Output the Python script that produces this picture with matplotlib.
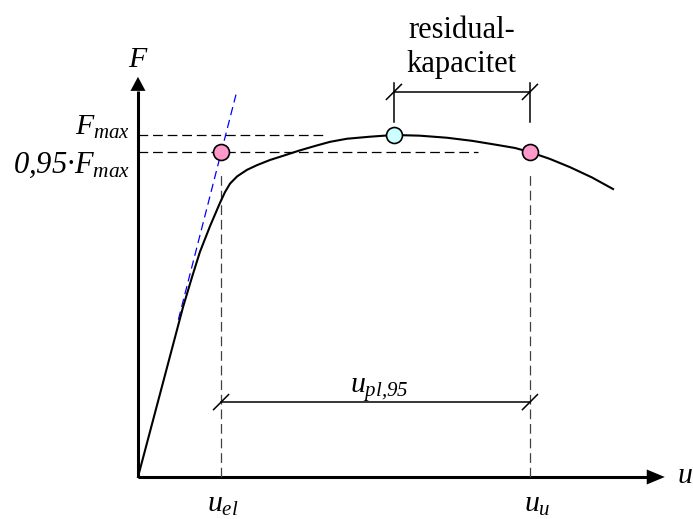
import matplotlib.pyplot as plt

plt.rcParams['font.family'] = ['Liberation Serif', 'DejaVu Serif']
# all symbols in the labels are italic, digits included
plt.rcParams['mathtext.fontset'] = 'custom'
plt.rcParams['mathtext.rm'] = 'Liberation Serif:italic'
plt.rcParams['mathtext.it'] = 'Liberation Serif:italic'
plt.rcParams['lines.scale_dashes'] = False

# force-displacement curve (u normalised to u_u, F normalised to F_max)
u_curve = [0.0, 0.115, 0.138, 0.158, 0.184, 0.209, 0.222, 0.235, 0.253, 0.278,
           0.304, 0.337, 0.370, 0.413, 0.452, 0.490, 0.533, 0.592, 0.653, 0.719,
           0.788, 0.852, 0.916, 0.962, 1.0, 1.051, 1.102, 1.158, 1.212]
F_curve = [0.0, 0.497, 0.585, 0.658, 0.734, 0.801, 0.833, 0.858, 0.879, 0.898,
           0.912, 0.927, 0.939, 0.955, 0.968, 0.980, 0.989, 0.995, 1.0, 0.998,
           0.992, 0.983, 0.971, 0.962, 0.95, 0.930, 0.906, 0.876, 0.842]

# initial stiffness line
u_tan = [0.103, 0.250]
F_tan = [0.460, 1.118]

F_max = 1.0
F_95 = 0.95
u_el = 0.212
u_peak = 0.653
u_u = 1.0

fig = plt.figure(figsize=(6.93, 5.19), dpi=100)
ax = fig.add_axes([0, 0, 1, 1])
ax.set_xlim(-0.352, 1.416)
ax.set_ylim(-0.1228, 1.3947)
ax.axis('off')

# pixel sizes expressed in data units
px_u = 1 / 392
px_F = 1 / 342

# axes with arrow heads
ax.plot([0, 1.298], [0, 0], color='black', lw=2.2, solid_capstyle='butt')
ax.plot([0, 0], [0, 1.129], color='black', lw=2.2, solid_capstyle='butt')
ax.fill([1.298, 1.344, 1.298], [7.5 * px_F, 0, -7.5 * px_F], color='black', lw=0)
ax.fill([-7.5 * px_u, 0, 7.5 * px_u], [1.129, 1.170, 1.129], color='black', lw=0)

# reference dashed lines
dash = (7, 3.5)
ax.plot([0, 0.472], [F_max, F_max], color='black', lw=0.9, dashes=dash)
ax.plot([0, 0.867], [F_95, F_95], color='black', lw=0.9, dashes=dash)
ax.plot([u_el, u_el], [0, 0.889], color='#404040', lw=0.9, dashes=dash)
ax.plot([u_u, u_u], [0, 0.883], color='#404040', lw=0.9, dashes=dash)

ax.plot(u_tan, F_tan, color='blue', lw=0.9, dashes=(6, 3.5))
ax.plot(u_curve, F_curve, color='black', lw=1.5, solid_joinstyle='round')

# characteristic points
ax.plot([u_el, u_u], [F_95, F_95], 'o', ms=11.5, mfc='#ff99cc', mec='black', mew=1.2)
ax.plot([u_peak], [F_max], 'o', ms=11.5, mfc='#ccffff', mec='black', mew=1.2)


def dimension(u0, u1, F):
    ax.plot([u0, u1], [F, F], color='black', lw=1.1)
    for u in (u0, u1):
        ax.plot([u - 7.5 * px_u, u + 7.5 * px_u], [F - 7.5 * px_F, F + 7.5 * px_F],
                color='black', lw=1.1)


# residual capacity dimension
F_dim = 1.126
ax.plot([u_peak, u_peak], [1.038, 1.152], color='black', lw=1.1)
ax.plot([u_u, u_u], [1.038, 1.152], color='black', lw=1.1)
dimension(u_peak, u_u, F_dim)
u_mid = (u_peak + u_u) / 2
ax.text(u_mid, 1.283, 'residual-', fontsize=22, ha='center', va='baseline')
ax.text(u_mid, 1.184, 'kapacitet', fontsize=22, ha='center', va='baseline')

# plastic deformation dimension
dimension(u_el, u_u, 0.219)
ax.text(0.617, 0.246, r'$u_{pl{,}95}$', fontsize=21.5, ha='center', va='baseline')

# labels
ax.text(0, 1.199, r'$F$', fontsize=21.5, ha='center', va='baseline')
ax.text(1.375, -0.0175, r'$u$', fontsize=21.5, ha='left', va='baseline')
ax.text(-0.0204, 1.0, r'$F_{max}$', fontsize=21.5, ha='right', va='baseline')
ax.text(-0.0204, 0.889, '$0{,}95\u00b7F_{max}$', fontsize=22,
        ha='right', va='baseline')
ax.text(u_el + 0.005, -0.102, r'$u_{el}$', fontsize=21.5, ha='center', va='baseline')
ax.text(1.02, -0.102, r'$u_{u}$', fontsize=21.5, ha='center', va='baseline')

fig.savefig('out.png', dpi=100)
